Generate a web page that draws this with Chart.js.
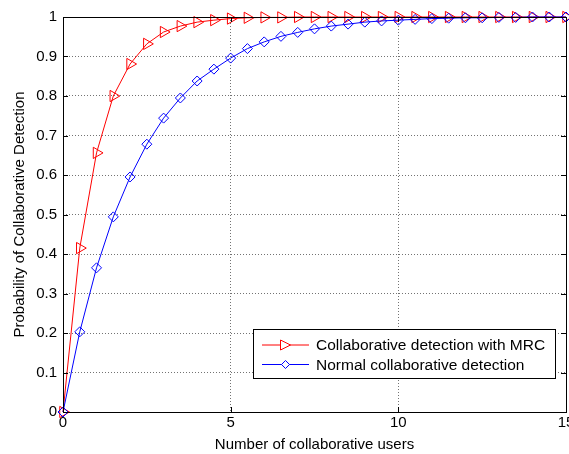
<!DOCTYPE html>
<html><head><meta charset="utf-8">
<script src="https://cdn.jsdelivr.net/npm/chart.js@4/dist/chart.umd.min.js"></script>
<style>html,body{margin:0;padding:0;background:#fff}#wrap{width:569px;height:454px}</style>
</head><body><div id="wrap"><canvas id="c" width="569" height="454"></canvas></div>
<script>
const xValues = [0,0.5,1,1.5,2,2.5,3,3.5,4,4.5,5,5.5,6,6.5,7,7.5,8,8.5,9,9.5,10,10.5,11,11.5,12,12.5,13,13.5,14,14.5,15];
const mrcValues = [0,0.415,0.656,0.800,0.881,0.932,0.962,0.977,0.987,0.992,0.996,0.998,0.999,0.999,1,1,1,1,1,1,1,1,1,1,1,1,1,1,1,1,1];
const normalValues = [0,0.203,0.365,0.494,0.595,0.678,0.744,0.795,0.838,0.868,0.896,0.920,0.937,0.951,0.961,0.970,0.977,0.982,0.987,0.990,0.992,0.994,0.996,0.997,0.998,0.998,0.999,0.999,1,1,1];
const seriesLabels = ['Collaborative detection with MRC','Normal collaborative detection'];
const xTicks = [0,5,10,15];
const yTicks = [0,0.1,0.2,0.3,0.4,0.5,0.6,0.7,0.8,0.9,1];

const FONT = 'Liberation Sans, Arial, sans-serif';
const toPts = vals => xValues.map((x,i)=>({x:x,y:vals[i]}));

const boxPlugin = {
  id:'boxPlugin',
  afterDraw(chart){
    const {ctx, chartArea:a, scales} = chart;
    ctx.save();
    ctx.strokeStyle='#000'; ctx.lineWidth=1;
    ctx.strokeRect(Math.round(a.left)+0.5, Math.round(a.top)+0.5, Math.round(a.right-a.left), Math.round(a.bottom-a.top));
    ctx.beginPath();
    const L=5;
    xTicks.forEach(v=>{const px=Math.round(scales.x.getPixelForValue(v))+0.5;
      ctx.moveTo(px,a.bottom); ctx.lineTo(px,a.bottom-L);
      ctx.moveTo(px,a.top); ctx.lineTo(px,a.top+L);});
    yTicks.forEach(v=>{const py=Math.round(scales.y.getPixelForValue(v))+0.5;
      ctx.moveTo(a.left,py); ctx.lineTo(a.left+L,py);
      ctx.moveTo(a.right,py); ctx.lineTo(a.right-L,py);});
    ctx.stroke();
    // legend
    const bx=253, by=329, bw=302, bh=49;
    ctx.fillStyle='#fff'; ctx.fillRect(bx,by,bw,bh);
    ctx.strokeStyle='#000'; ctx.strokeRect(bx+0.5,by+0.5,bw,bh);
    ctx.font='15.5px '+FONT; ctx.textBaseline='middle'; ctx.textAlign='left';
    chart.data.datasets.forEach((ds,i)=>{
      const y = by+16+i*19.5;
      ctx.strokeStyle=ds.borderColor; ctx.lineWidth=1;
      ctx.beginPath(); ctx.moveTo(262,y); ctx.lineTo(309,y); ctx.stroke();
      const cx=285.5;
      ctx.beginPath();
      if(i===0){ctx.moveTo(cx-5,y-5);ctx.lineTo(cx+5,y);ctx.lineTo(cx-5,y+5);ctx.closePath();}
      else{ctx.moveTo(cx,y-4);ctx.lineTo(cx+4,y);ctx.lineTo(cx,y+4);ctx.lineTo(cx-4,y);ctx.closePath();}
      ctx.fillStyle='#fff'; ctx.fill(); ctx.stroke();
      ctx.fillStyle='#000'; ctx.fillText(ds.label,316,y+1);
    });
    ctx.restore();
  }
};

new Chart(document.getElementById('c'),{
  type:'line',
  data:{datasets:[
    {label:seriesLabels[0],data:toPts(mrcValues),order:2,borderColor:'#ff0000',borderWidth:1,pointStyle:'triangle',rotation:90,pointRadius:6.5,pointBorderWidth:1,pointBackgroundColor:'rgba(255,255,255,0)',pointBorderColor:'#ff0000',tension:0,clip:8},
    {label:seriesLabels[1],data:toPts(normalValues),order:1,borderColor:'#0000ff',borderWidth:1,pointStyle:'rectRot',pointRadius:5,pointBorderWidth:1,pointBackgroundColor:'rgba(255,255,255,0)',pointBorderColor:'#0000ff',tension:0,clip:8}
  ]},
  options:{
    responsive:false, animation:false, devicePixelRatio:1,
    layout:{autoPadding:false,padding:{top:17,right:3,left:0,bottom:0}},
    plugins:{legend:{display:false},tooltip:{enabled:false}},
    scales:{
      x:{type:'linear',min:0,max:15,
        afterBuildTicks(s){s.ticks=xTicks.map(v=>({value:v}));},
        afterFit(s){s.height=42;s.paddingRight=0;s.paddingLeft=0;
          s.getPadding=()=>({left:0,right:0,top:0,bottom:0});},
        ticks:{font:{family:FONT,size:15},color:'#000',padding:2,maxRotation:0,callback:v=>String(v)},
        grid:{color:'rgba(0,0,0,0.55)',lineWidth:1,drawTicks:false},
        border:{display:false,dash:[1,2]},
        title:{display:true,text:'Number of collaborative users',font:{family:FONT,size:15},color:'#000',padding:{top:0,bottom:0}}
      },
      y:{type:'linear',min:0,max:1,
        afterBuildTicks(s){s.ticks=yTicks.map(v=>({value:v}));},
        afterFit(s){s.width=63;},
        ticks:{font:{family:FONT,size:15},color:'#000',padding:6,callback:v=>String(Math.round(v*10)/10)},
        grid:{color:'rgba(0,0,0,0.55)',lineWidth:1,drawTicks:false},
        border:{display:false,dash:[1,2]},
        title:{display:true,text:'Probability of Collaborative Detection',font:{family:FONT,size:15},color:'#000',padding:{top:11,bottom:0}}
      }
    }
  },
  plugins:[boxPlugin]
});
</script></body></html>
